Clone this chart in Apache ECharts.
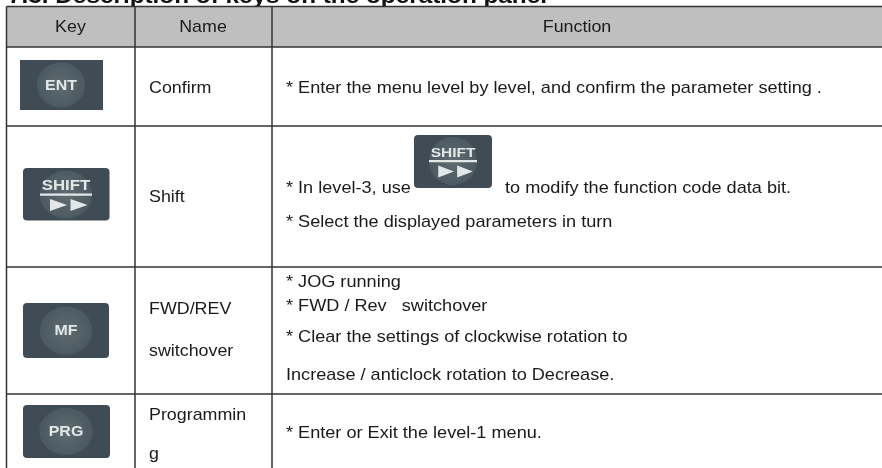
<!DOCTYPE html>
<html>
<head>
<meta charset="utf-8">
<style>
html, body { margin: 0; padding: 0; background: #fff; }
#main { width: 882px; height: 468px; }
</style>
<script src="https://cdn.jsdelivr.net/npm/echarts@6/dist/echarts.min.js"></script>
</head>
<body>
<div id="main"></div>
<script>
var titleText = '7.3. Description of keys on the operation panel';
var headers = ['Key', 'Name', 'Function'];
var keyLabels = ['ENT', 'SHIFT', 'MF', 'PRG'];
var names = [['Confirm'], ['Shift'], ['FWD/REV', 'switchover'], ['Programmin', 'g']];
var functions = [
    ['* Enter the menu level by level, and confirm the parameter setting .'],
    ['* In level-3, use', 'to modify the function code data bit.', '* Select the displayed parameters in turn'],
    ['* JOG running', '* FWD / Rev   switchover', '* Clear the settings of clockwise rotation to', 'Increase / anticlock rotation to Decrease.'],
    ['* Enter or Exit the level-1 menu.']
];

// layout, in pixels of the page
var colX = [6.5, 135, 272];
var rowY = [6.5, 47, 126, 267, 394];
var headerX = [70.5, 203, 577];
var namePos = [[88], [197], [309, 351], [415, 454]];
var funcPos = [
    [[286, 88]],
    [[286, 188], [505, 188], [286, 222]],
    [[286, 282], [286, 306], [286, 337], [286, 375]],
    [[286, 433]]
];
var iconPos = [
    { x: 20, y: 60, w: 83, h: 50, r: 0, cx: 61, cy: 85, rx: 24, ry: 22.5 },
    { x: 23, y: 168, w: 86.5, h: 52.5, r: 4, cx: 66, cy: 194.5, rx: 26, ry: 24 },
    { x: 23, y: 303, w: 86, h: 55, r: 4, cx: 66, cy: 330.5, rx: 26, ry: 24 },
    { x: 23, y: 405, w: 87, h: 53, r: 4, cx: 66, cy: 431.5, rx: 26.5, ry: 23.5 }
];
var inlineIcon = { x: 414, y: 135, w: 78, h: 53, r: 4, cx: 453, cy: 161, rx: 24, ry: 24 };

var font = '"Liberation Sans", Arial, sans-serif';
var inkColor = '#1a1a1a';
var lineColor = '#333333';
var keyInk = '#e4e7e8';

function label(text, x, y, align, stretch) {
    return {
        type: 'text',
        z: 10,
        x: x, y: y, scaleX: stretch || 1.05,
        style: {
            text: text, fill: inkColor,
            font: '17px ' + font,
            textAlign: align || 'left', textVerticalAlign: 'middle'
        }
    };
}

function rule(x1, y1, x2, y2) {
    return {
        type: 'line',
        z: 5,
        shape: { x1: x1, y1: y1, x2: x2, y2: y2 },
        style: { stroke: lineColor, lineWidth: 1.5 }
    };
}

function keyText(text, x, y, size, sx) {
    return {
        type: 'text', z: 8, x: x, y: y, scaleX: sx,
        style: {
            text: text, fill: keyInk,
            font: 'bold ' + size + 'px ' + font,
            textAlign: 'center', textVerticalAlign: 'middle'
        }
    };
}

function shiftMarks(p, k) {
    var cx = p.cx, cy = p.cy, out = [];
    out.push(keyText('SHIFT', cx, cy - 8, 14 * k, 1.2));
    out.push({ type: 'rect', z: 8,
        shape: { x: cx - 26 * k, y: cy - 1, width: 52 * k, height: 2.2 },
        style: { fill: keyInk } });
    [-16, 4.5].forEach(function (dx) {
        out.push({ type: 'polygon', z: 8,
            shape: { points: [
                [cx + dx * k, cy + 4.5],
                [cx + (dx + 17) * k, cy + 10.5],
                [cx + dx * k, cy + 16.5]
            ] },
            style: { fill: keyInk } });
    });
    return out;
}

function keyIcon(p, text) {
    var out = [
        { type: 'rect', z: 6, shape: { x: p.x, y: p.y, width: p.w, height: p.h, r: p.r }, style: { fill: '#3f4c56' } },
        { type: 'ellipse', z: 7, shape: { cx: p.cx, cy: p.cy, rx: p.rx, ry: p.ry },
            style: { fill: new echarts.graphic.RadialGradient(0.5, 0.5, 0.5, [
                { offset: 0, color: '#5f6c71' },
                { offset: 1, color: '#4c5a62' }
            ]) } }
    ];
    if (text === 'SHIFT') {
        return out.concat(shiftMarks(p, p.rx / 26));
    }
    out.push(keyText(text, p.cx, p.cy + 0.5, 14.5, 1.1));
    return out;
}

var els = [];
// clipped section title, the table covers its lower edge
els.push({ type: 'text', z: 1, x: 8, y: -3, scaleX: 1.105, style: {
    text: titleText, fill: '#111111',
    font: 'bold 22px ' + font, textAlign: 'left', textVerticalAlign: 'middle'
} });
els.push({ type: 'rect', z: 2, shape: { x: colX[0], y: rowY[0], width: 882 - colX[0], height: rowY[1] - rowY[0] }, style: { fill: '#bfbfbf' } });
els.push({ type: 'rect', z: 2, shape: { x: colX[0], y: rowY[1], width: 882 - colX[0], height: 468 - rowY[1] }, style: { fill: '#ffffff' } });

rowY.forEach(function (y) { els.push(rule(colX[0], y, 882, y)); });
colX.forEach(function (x) { els.push(rule(x, rowY[0], x, 468)); });

headers.forEach(function (h, i) { els.push(label(h, headerX[i], 27, 'center')); });

names.forEach(function (lines, i) {
    lines.forEach(function (t, j) { els.push(label(t, 149, namePos[i][j])); });
});
functions.forEach(function (lines, i) {
    lines.forEach(function (t, j) { els.push(label(t, funcPos[i][j][0], funcPos[i][j][1], 'left', 1.066)); });
});
keyLabels.forEach(function (k, i) { els = els.concat(keyIcon(iconPos[i], k)); });
els = els.concat(keyIcon(inlineIcon, 'SHIFT'));

var myChart = echarts.init(document.getElementById('main'));
myChart.setOption({
    animation: false,
    backgroundColor: '#ffffff',
    graphic: { elements: els }
});
</script>
</body>
</html>
